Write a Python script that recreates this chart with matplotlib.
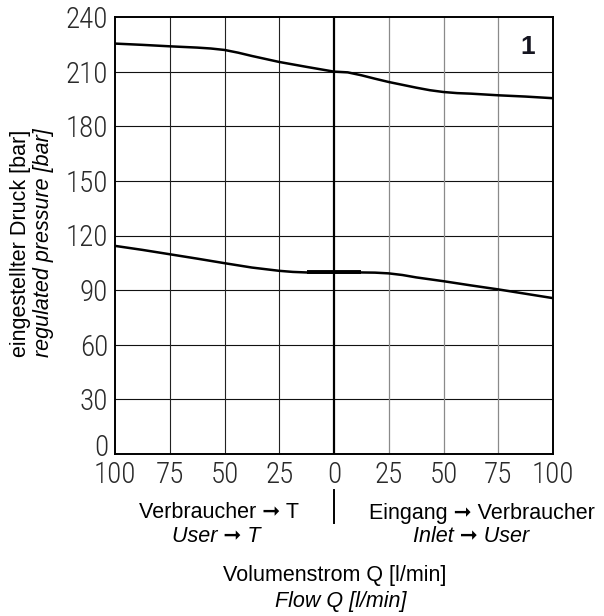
import os
import matplotlib
matplotlib.use("Agg")
import matplotlib.pyplot as plt
from matplotlib import font_manager as fm
from matplotlib.lines import Line2D
from matplotlib.transforms import ScaledTranslation

# ---------------- data ----------------
q_upper = [-100, -87.5, -75, -62.5, -56.25, -50, -43.75, -37.5, -25, -12.5, 0, 6.25, 12.5, 18.75, 25, 37.5, 43.75, 50, 56.25, 62.5, 75, 87.5, 100]
p_upper = [225.4, 224.7, 223.9, 223.2, 222.7, 221.9, 220.4, 218.6, 215.3, 212.6, 210.0, 209.6, 208.0, 206.1, 204.3, 201.2, 199.8, 198.8, 198.2, 197.9, 197.0, 196.3, 195.4]

q_lower = [-100, -87.5, -75, -62.5, -50, -37.5, -25, -18.75, -12.5, 0, 12.5, 18.75, 25, 31.25, 37.5, 50, 62.5, 75, 87.5, 100]
p_lower = [114.3, 112.1, 109.7, 107.3, 104.8, 102.4, 100.6, 100.0, 99.7, 99.7, 99.7, 99.6, 99.2, 98.3, 97.0, 94.9, 92.6, 90.4, 88.0, 85.6]

q_flat = [-12.5, 12.5]
p_flat = [99.7, 99.7]

x_ticks = [-100, -75, -50, -25, 0, 25, 50, 75, 100]
x_tick_labels = ["100", "75", "50", "25", "0", "25", "50", "75", "100"]
y_ticks = [0, 30, 60, 90, 120, 150, 180, 210, 240]
y_tick_labels = [str(v) for v in y_ticks]

# ---------------- fonts ----------------
def find_font(patterns):
    files = [f.fname for f in fm.fontManager.ttflist]
    for pat in patterns:
        for f in files:
            if pat.lower() in os.path.basename(f).lower():
                return f
    return None

tick_font_file = find_font([
    "NotoSans-CondensedLight.", "RobotoCondensed-Light.", "LiberationSansNarrow-Regular.",
    "DejaVuSansCondensed.", "Roboto-Light.", "OpenSans-Light.", "Lato-Light.",
])
if tick_font_file:
    tick_fp = fm.FontProperties(fname=tick_font_file, size=21)
else:
    tick_fp = fm.FontProperties(family="DejaVu Sans", size=18)

TXT = ["Liberation Sans", "DejaVu Sans"]
ARROW = "\u279E"

W, H = 604, 616
fig = plt.figure(figsize=(W / 100, H / 100), dpi=100)
ax = fig.add_axes([115 / W, 1 - 454 / H, 438 / W, 437 / H])

ax.set_xlim(-100, 100)
ax.set_ylim(0, 240)

# grid
for v in y_ticks[1:-1]:
    ax.axhline(v, color="#111111", lw=0.8, zorder=1)
for v in x_ticks[1:-1]:
    if v == 0:
        ax.axvline(v, color="#000000", lw=1.6, zorder=1)
    elif v < 0:
        ax.axvline(v, color="#222222", lw=0.8, zorder=1)
    else:
        ax.axvline(v, color="#8a8a8a", lw=0.9, zorder=1)

# curves
ax.plot(q_upper, p_upper, color="black", lw=1.8, zorder=3, solid_capstyle="butt", solid_joinstyle="round")
ax.plot(q_lower, p_lower, color="black", lw=1.8, zorder=3, solid_capstyle="butt", solid_joinstyle="round")
ax.plot(q_flat, p_flat, color="black", lw=2.8, zorder=3, solid_capstyle="butt")

for s in ax.spines.values():
    s.set_linewidth(1.4)
    s.set_color("black")
    s.set_zorder(4)

ax.set_xticks(x_ticks)
ax.set_xticklabels(x_tick_labels)
ax.set_yticks(y_ticks)
ax.set_yticklabels(y_tick_labels)
ax.tick_params(length=0)
ax.tick_params(axis="x", pad=5)
ax.tick_params(axis="y", pad=5)
for lab in ax.get_xticklabels() + ax.get_yticklabels():
    lab.set_fontproperties(tick_fp)
    lab.set_color("#2a2a2a")
# the "0" of the pressure axis sits a little higher, clear of the flow labels
y0 = ax.get_yticklabels()[0]
y0.set_transform(y0.get_transform() + ScaledTranslation(0, 9 / 100, fig.dpi_scale_trans))

# panel number
fig.text(528 / W, 1 - 47 / H, "1", family="Liberation Sans", weight="bold",
         fontsize=19, color="#151520", ha="center", va="center")

# axis labels
fs = 15.5
fig.text(21 / W, 1 - 243 / H, "eingestellter Druck [bar]", rotation=90,
         family=TXT, fontsize=fs, ha="center", va="center")
fig.text(44 / W, 1 - 243 / H, "regulated pressure [bar]", rotation=90,
         family=TXT, style="italic", fontsize=fs, ha="center", va="center")

fig.text(219 / W, 1 - 513 / H, "Verbraucher " + ARROW + " T", family=TXT,
         fontsize=fs, ha="center", va="center")
fig.text(216 / W, 1 - 537 / H, "User " + ARROW + " T", family=TXT, style="italic",
         fontsize=fs, ha="center", va="center")
fig.text(482 / W, 1 - 513 / H, "Eingang " + ARROW + " Verbraucher", family=TXT,
         fontsize=fs, ha="center", va="center")
fig.text(471 / W, 1 - 537 / H, "Inlet " + ARROW + " User", family=TXT, style="italic",
         fontsize=fs, ha="center", va="center")
fig.text(335 / W, 1 - 576 / H, "Volumenstrom Q [l/min]", family=TXT,
         fontsize=fs, ha="center", va="center")
fig.text(341 / W, 1 - 601 / H, "Flow Q [l/min]", family=TXT, style="italic",
         fontsize=fs, ha="center", va="center")

# divider between the two flow directions
fig.add_artist(Line2D([334 / W, 334 / W], [1 - 490 / H, 1 - 523 / H],
                      transform=fig.transFigure, color="black", lw=1.4))

fig.savefig("out.png", dpi=100)
